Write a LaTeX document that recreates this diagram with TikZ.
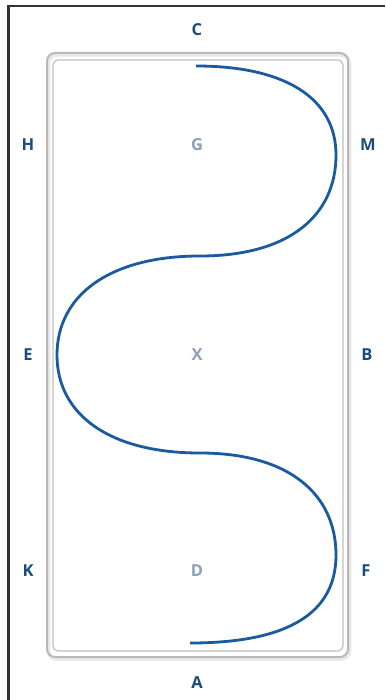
\documentclass[tikz,border=0pt]{standalone}
\usepackage{fontspec}
\setmainfont{Open Sans}
\definecolor{lblue}{HTML}{1A4C80}
\definecolor{lgray}{HTML}{8CA0B6}
\definecolor{curveblue}{HTML}{1A5A9E}
\definecolor{framegray}{HTML}{333333}
\tikzset{
  lettermark/.style={font=\fontsize{16.5}{16.5}\selectfont\bfseries, text=lblue, inner sep=0pt},
  innerletter/.style={lettermark, text=lgray},
  arena/.style={draw=gray!55, line width=2pt, rounded corners=8pt},
  arenain/.style={draw=gray!50, line width=1.2pt, rounded corners=5pt},
  tourline/.style={draw=curveblue, line width=2.8pt}
}
\begin{document}
\begin{tikzpicture}[x=1pt,y=-1pt]
\useasboundingbox (0,0) rectangle (385,700);
\fill[white] (0,0) rectangle (385,700);
% outer frame
\draw[framegray, line width=2.4pt] (8.5,700) -- (8.5,6) -- (385,6);
% arena shadow and lines
\draw[gray!18, line width=3.5pt, rounded corners=8pt] (48.5,55) rectangle (349.5,659);
\draw[arena] (47,53) rectangle (348,657);
\draw[arenain] (53,60) rectangle (343,651);
% curve
\draw[tourline] (196,66)
  .. controls (285,66) and (336,98) .. (336,155)
  .. controls (336,215) and (290,256) .. (200,256)
  .. controls (110,256) and (57,295) .. (57,355)
  .. controls (57,415) and (110,453) .. (200,453)
  .. controls (290,453) and (336,495) .. (336,555)
  .. controls (336,612) and (290,643) .. (190,643);
% letters
\node[lettermark] (C) at (197,30) {C};
\node[lettermark] (H) at (28,145) {H};
\node[innerletter] (G) at (197,145) {G};
\node[lettermark] (M) at (368,145) {M};
\node[lettermark] (E) at (28,355) {E};
\node[innerletter] (X) at (197,355) {X};
\node[lettermark] (B) at (367,355) {B};
\node[lettermark] (K) at (28,571) {K};
\node[innerletter] (D) at (197,571) {D};
\node[lettermark] (F) at (366,571) {F};
\node[lettermark] (A) at (197,683) {A};
\end{tikzpicture}
\end{document}
